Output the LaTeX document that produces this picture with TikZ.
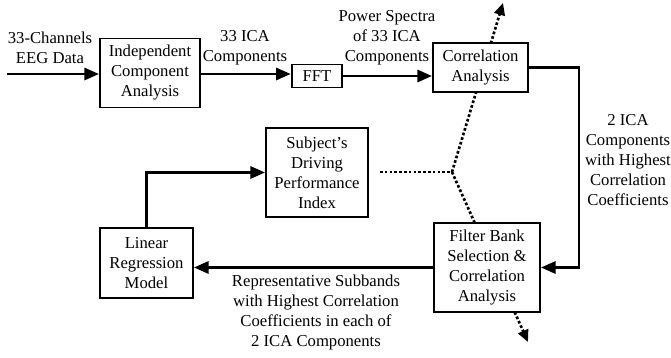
\documentclass[tikz,border=0pt]{standalone}
\usepackage{fontspec}
\setmainfont{Liberation Serif}
\usetikzlibrary{arrows.meta}
\usetikzlibrary{backgrounds}
\tikzset{
      block/.style={draw=black, line width=1.4, fill=white, align=center, inner sep=1pt},
      flow/.style={draw=black, line width=2.2, -{Triangle[length=11pt,width=9pt]}},
      corrlink/.style={draw=black, line width=2, dash pattern=on 2pt off 1.6pt},
      corrarrow/.style={corrlink, -{Triangle[length=9pt,width=8pt]}},
      lbl/.style={align=center, inner sep=0pt},
}

\begin{document}
\begin{tikzpicture}[x=0.75pt, y=-0.75pt, font=\fontsize{12.5}{15}\selectfont]
        \useasboundingbox (0,0) rectangle (671,357);

        % Draw the blocks
        \node[block, minimum width=75pt, minimum height=51.75pt] (ica) at (150,73) {Independent\\Component\\Analysis};
        \node[block, minimum width=38pt, minimum height=17.25pt] (fft) at (317,76) {FFT};
        \node[block, minimum width=71.25pt, minimum height=36.75pt] (corr) at (480.5,67.5) {Correlation\\Analysis};
        \node[block, minimum width=76.5pt, minimum height=66.75pt] (subj) at (317,172.5) {Subject's\\Driving\\Performance\\Index};
        \node[block, minimum width=69.75pt, minimum height=52.5pt] (linreg) at (146.5,263) {Linear\\Regression\\Model};
        \node[block, minimum width=79.5pt, minimum height=66.75pt] (fbank) at (487,267.5) {Filter Bank\\Selection \&\\Correlation\\Analysis};

        % Draw the data flow
        \coordinate (eeg) at (7,74);
        \coordinate (bend) at (579,67.5);
        \draw[flow] (eeg) -- (eeg -| ica.west);
        \draw[flow] (ica.east |- eeg) -- (fft.west |- eeg);
        \draw[flow] (fft.east) -- (fft.east -| corr.west);
        \draw[flow] (corr.east) -- (bend) |- (fbank.east);
        \draw[flow] (fbank.west) -- (fbank.west -| linreg.east);
        \draw[flow] (linreg.north) |- (subj.west);

        % Draw the correlation links
        \coordinate (junc) at (452,172);
        \coordinate (dstart) at (380,172);
        \coordinate (uptip) at (503,3);
        \coordinate (downtip) at (528,342);
        \begin{scope}[on background layer]
            \draw[corrlink] (dstart) -- (junc);
            \draw[corrarrow] (junc) -- (uptip);
            \draw[corrarrow] (junc) -- (downtip);
        \end{scope}

        % Draw the labels
        \node[lbl] (lbleeg) at (50,48) {33-Channels\\EEG Data};
        \node[lbl] (lblica) at (245,48) {33 ICA\\Components};
        \node[lbl] (lblpow) at (387,38) {Power Spectra\\of 33 ICA\\Components};
        \node[lbl] (lbltwo) at (628,160) {2 ICA\\Components\\with Highest\\Correlation\\Coefficients};
        \node[lbl] (lblrep) at (316,312) {Representative Subbands\\with Highest Correlation\\Coefficients in each of\\2 ICA Components};

\end{tikzpicture}
\end{document}
